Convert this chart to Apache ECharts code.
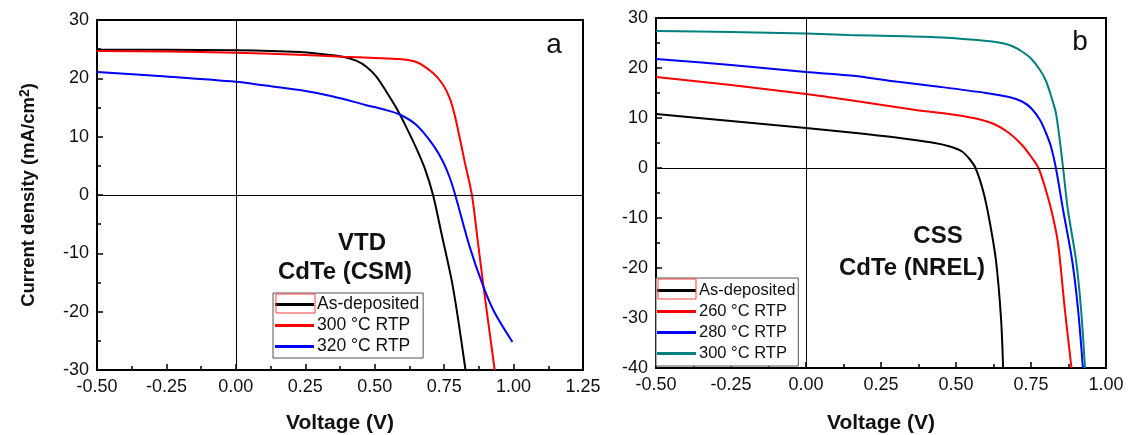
<!DOCTYPE html>
<html>
<head>
<meta charset="utf-8">
<script src="https://cdn.jsdelivr.net/npm/echarts@6/dist/echarts.min.js"></script>
<style>
html,body{margin:0;padding:0;background:#fff;}
#c{width:1131px;height:435px;}
</style>
</head>
<body>
<div id="c"></div>
<script>
// ---- Panel a (VTD CdTe, CSM) ----
const aAsDepV = [-0.5, -0.25, 0, 0.23, 0.3, 0.385, 0.435, 0.47, 0.506, 0.542, 0.578, 0.614, 0.65, 0.68, 0.71, 0.74, 0.777, 0.8, 0.827];
const aAsDepJ = [24.9, 24.9, 24.8, 24.5, 24.2, 23.7, 23.0, 22.0, 20.3, 17.7, 14.9, 11.6, 8.0, 4.6, 0, -6.5, -14.6, -21.2, -30];
const a300V = [-0.5, -0.25, 0, 0.2, 0.385, 0.5, 0.59, 0.65, 0.71, 0.746, 0.77, 0.788, 0.806, 0.824, 0.85, 0.87, 0.892, 0.932];
const a300J = [24.7, 24.6, 24.4, 24.1, 23.7, 23.5, 23.3, 22.8, 20.9, 18.9, 16.6, 13.7, 9.8, 5.7, 0, -7.5, -15.8, -30];
const a320V = [-0.5, -0.25, 0, 0.1, 0.23, 0.35, 0.47, 0.53, 0.59, 0.65, 0.71, 0.746, 0.77, 0.79, 0.842, 0.892, 0.932, 0.996];
const a320J = [21.1, 20.3, 19.4, 18.8, 18.0, 16.9, 15.4, 14.7, 13.8, 12.0, 8.6, 5.7, 3.0, 0, -8.9, -15.8, -20.2, -25.2];
const aNames = ['As-deposited', '300 °C RTP', '320 °C RTP'];
const aColors = ['#000000', '#ff0000', '#0000ff'];
const aXTicks = {min: -0.5, max: 1.25, interval: 0.25};
const aYTicks = {min: -30, max: 30, interval: 10};

// ---- Panel b (CSS CdTe, NREL) ----
const bAsDepV = [-0.5, -0.25, 0, 0.15, 0.3, 0.42, 0.48, 0.52, 0.545, 0.565, 0.59, 0.61, 0.633, 0.65, 0.657];
const bAsDepJ = [10.8, 9.4, 8.0, 7.1, 6.1, 5.1, 4.3, 3.3, 1.8, 0, -4.5, -10, -18.4, -30, -40];
const b260V = [-0.5, -0.25, 0, 0.143, 0.366, 0.5, 0.58, 0.63, 0.677, 0.72, 0.75, 0.775, 0.8, 0.82, 0.84, 0.863, 0.885];
const b260J = [18.2, 16.6, 14.8, 13.6, 11.6, 10.6, 9.7, 8.7, 7.0, 4.6, 2.3, 0, -4.5, -9, -15, -28.4, -40];
const b280V = [-0.5, -0.25, 0, 0.15, 0.3, 0.45, 0.6, 0.677, 0.72, 0.75, 0.78, 0.8, 0.817, 0.833, 0.857, 0.887, 0.907, 0.923];
const b280J = [21.8, 20.6, 19.2, 18.5, 17.3, 16.2, 15.0, 14.2, 13.3, 12.0, 9.6, 7.0, 4.2, 0, -8.4, -18.4, -28.4, -40];
const b300V = [-0.5, -0.25, 0, 0.143, 0.42, 0.55, 0.62, 0.66, 0.69, 0.72, 0.75, 0.78, 0.8, 0.82, 0.833, 0.845, 0.857, 0.873, 0.9, 0.917, 0.93];
const b300J = [27.4, 27.2, 26.9, 26.6, 26.2, 25.7, 25.3, 24.9, 24.3, 23.3, 21.9, 19.6, 17.4, 13.8, 11.0, 6.0, 0, -8.4, -18.4, -28.4, -40];
const bNames = ['As-deposited', '260 °C RTP', '280 °C RTP', '300 °C RTP'];
const bColors = ['#000000', '#ff0000', '#0000ff', '#008080'];
const bXTicks = {min: -0.5, max: 1.0, interval: 0.25};
const bYTicks = {min: -40, max: 30, interval: 10};

const xTitle = 'Voltage (V)';
const yTitleMain = 'Current density (mA/cm';
const yTitleSup = '2';
const panelLetters = ['a', 'b'];
const panelTextsA = ['VTD', 'CdTe (CSM)'];
const panelTextsB = ['CSS', 'CdTe (NREL)'];

function zip(xs, ys) { return xs.map((x, i) => [x, ys[i]]); }

const FONT = '"Liberation Sans", Arial, sans-serif';

function makeX(grid, t, gap) {
  return {
    type: 'value', gridIndex: grid, min: t.min, max: t.max, interval: t.interval,
    name: xTitle, nameLocation: 'middle', nameGap: gap,
    nameTextStyle: {fontFamily: FONT, fontSize: 21, fontWeight: 'bold', color: '#111'},
    axisLine: {show: true, onZero: false, lineStyle: {color: '#000', width: 2}},
    axisTick: {show: true, inside: true, length: 6, lineStyle: {color: '#000', width: 1.5}},
    minorTick: {show: true, splitNumber: 2, length: 4, lineStyle: {color: '#000', width: 1.5}},
    axisLabel: {fontFamily: FONT, fontSize: 18, color: '#111', margin: 8,
      formatter: v => v.toFixed(2)},
    splitLine: {show: false}
  };
}
function makeY(grid, t, withName) {
  const ax = {
    type: 'value', gridIndex: grid, min: t.min, max: t.max, interval: t.interval,
    axisLine: {show: true, onZero: false, lineStyle: {color: '#000', width: 2}},
    axisTick: {show: true, inside: true, length: 6, lineStyle: {color: '#000', width: 1.5}},
    minorTick: {show: true, splitNumber: 2, length: 4, lineStyle: {color: '#000', width: 1.5}},
    axisLabel: {fontFamily: FONT, fontSize: 18, color: '#111', margin: 8},
    splitLine: {show: false}
  };
  if (withName) {
    ax.name = '{t|' + yTitleMain + '}{s|' + yTitleSup + '}{t|)}';
    ax.nameLocation = 'middle'; ax.nameGap = 57;
    ax.nameTextStyle = {
      fontFamily: FONT, fontSize: 18.5, fontWeight: 'bold', color: '#111',
      rich: {
        t: {fontFamily: FONT, fontSize: 18.5, fontWeight: 'bold', color: '#111', lineHeight: 22},
        s: {fontFamily: FONT, fontSize: 14, fontWeight: 'bold', color: '#111', lineHeight: 14, verticalAlign: 'top'}
      }
    };
  }
  return ax;
}

const zeroMark = {
  silent: true, symbol: 'none', animation: false,
  label: {show: false},
  lineStyle: {color: '#000', width: 1, type: 'solid'},
  emphasis: {disabled: true},
  data: [{xAxis: 0}, {yAxis: 0}]
};

function lineSeries(name, xi, yi, data, color, withMark) {
  const s = {
    type: 'line', name: name, xAxisIndex: xi, yAxisIndex: yi,
    data: data, showSymbol: false, smooth: 0.3,
    lineStyle: {color: color, width: 2}, itemStyle: {color: color},
    animation: false, z: 3
  };
  if (withMark) s.markLine = zeroMark;
  return s;
}

const aData = [zip(aAsDepV, aAsDepJ), zip(a300V, a300J), zip(a320V, a320J)];
const bData = [zip(bAsDepV, bAsDepJ), zip(b260V, b260J), zip(b280V, b280J), zip(b300V, b300J)];

const series = [];
aData.forEach((d, i) => series.push(lineSeries(aNames[i], 0, 0, d, aColors[i], i === 0)));
bData.forEach((d, i) => series.push(lineSeries(bNames[i] + (i > 0 ? '\u200b' : ''), 1, 1, d, bColors[i], i === 0)));

function legend(left, top, names, colors, suffix, fs, pad) {
  return {
    orient: 'vertical', left: left, top: top,
    icon: 'rect', itemWidth: 39, itemHeight: 3, itemGap: 0,
    padding: pad,
    borderColor: '#555', borderWidth: 1, backgroundColor: '#fff',
    textStyle: {fontFamily: FONT, fontSize: fs, color: '#111', lineHeight: 21, padding: [0, 0, 0, -2]},
    selectedMode: false,
    data: names.map((n, i) => ({name: n + (suffix && i > 0 ? suffix : ''), itemStyle: {color: colors[i]}})),
    formatter: n => n.replace('\u200b', '')
  };
}

function label(txt, x, y, size, weight) {
  return {type: 'text', x: x, y: y, z: 100, silent: true,
    style: {text: txt, align: 'center', verticalAlign: 'middle', fill: '#111',
      font: weight + ' ' + size + 'px "Liberation Sans", Arial, sans-serif'}};
}

const option = {
  backgroundColor: '#fff',
  animation: false,
  grid: [
    {left: 97, top: 20, width: 486, height: 350, show: true, borderColor: '#000', borderWidth: 2, containLabel: false, outerBoundsMode: 'none'},
    {left: 656, top: 18, width: 450, height: 350, show: true, borderColor: '#000', borderWidth: 2, containLabel: false, outerBoundsMode: 'none'}
  ],
  xAxis: [makeX(0, aXTicks, 43), makeX(1, bXTicks, 45)],
  yAxis: [makeY(0, aYTicks, true), makeY(1, bYTicks, false)],
  legend: [
    legend(273, 293, aNames, aColors, '', 17.5, [1, 4, 1, 2]),
    legend(656, 278, bNames, bColors, '\u200b', 16.5, [2, 3, 2, 1])
  ],
  graphic: [
    label(panelLetters[0], 554, 45, 28, 'normal'),
    label(panelLetters[1], 1080, 42, 28, 'normal'),
    label(panelTextsA[0], 362, 243, 24, 'bold'),
    label(panelTextsA[1], 345, 272, 24, 'bold'),
    label(panelTextsB[0], 938, 236, 24, 'bold'),
    label(panelTextsB[1], 912, 268, 24, 'bold'),
    {type: 'rect', x: 276, y: 294, z: 100, silent: true, shape: {width: 39, height: 19}, style: {fill: 'none', stroke: '#ff4040', lineWidth: 1}},
    {type: 'rect', x: 658, y: 279, z: 100, silent: true, shape: {width: 38, height: 20}, style: {fill: 'none', stroke: '#ff4040', lineWidth: 1}}
  ],
  series: series
};

const chart = echarts.init(document.getElementById('c'), null, {renderer: 'canvas'});
chart.setOption(option);
</script>
</body>
</html>
